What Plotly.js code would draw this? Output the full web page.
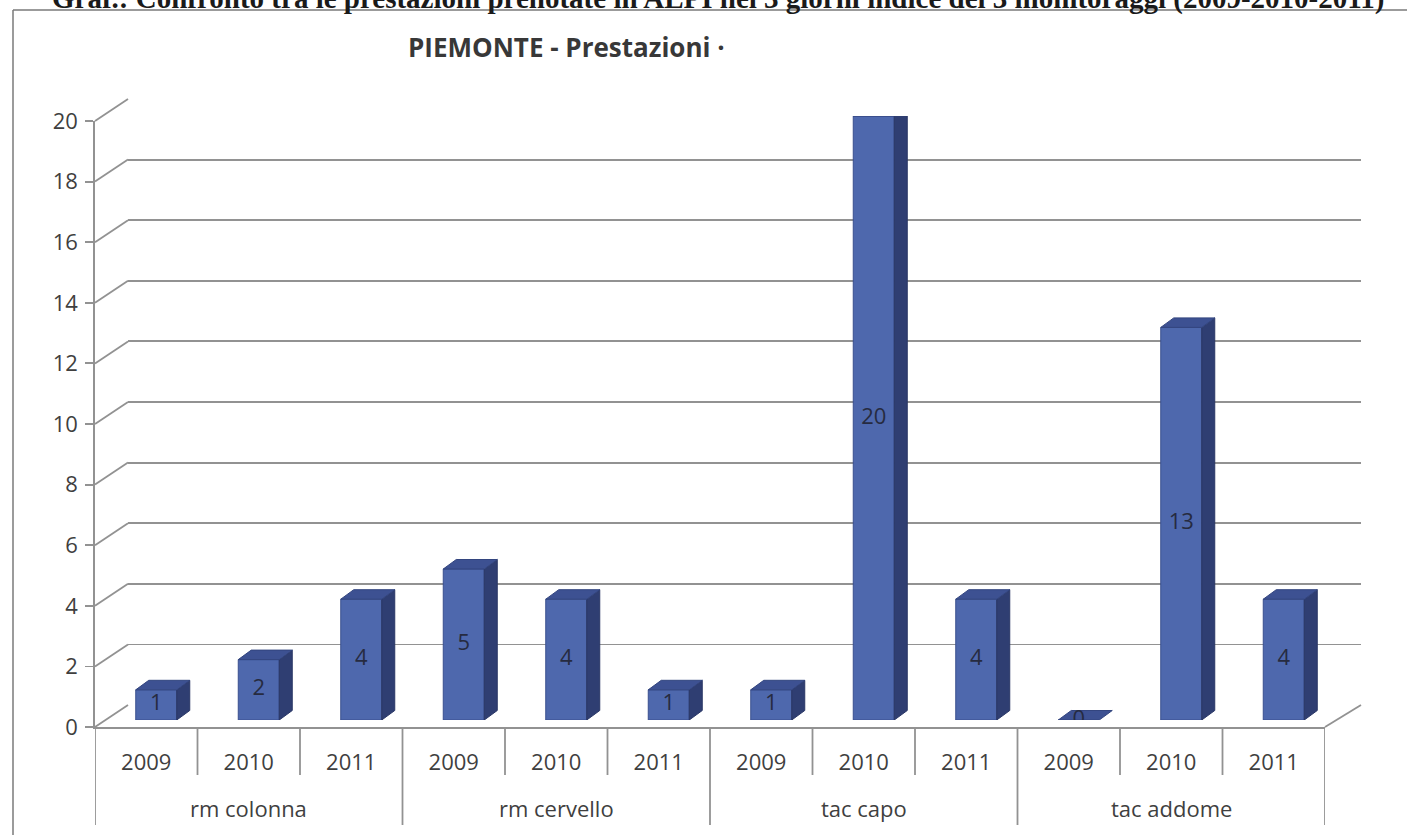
<!DOCTYPE html>
<html>
<head>
<meta charset="utf-8">
<script src="https://cdn.plot.ly/plotly-3.0.1.min.js"></script>
<style>
  html, body { margin: 0; padding: 0; background: #ffffff; }
  #chart { width: 1407px; height: 835px; }
</style>
</head>
<body>
<div id="chart"></div>
<script>
// ---- data ----
const pageTitle = 'Graf.: Confronto tra le prestazioni prenotate in ALPI nei 3 giorni indice dei 3 monitoraggi (2009-2010-2011)';
const chartTitle = 'PIEMONTE - Prestazioni ·';
const groups = ['rm colonna', 'rm cervello', 'tac capo', 'tac addome'];
const years = ['2009', '2010', '2011'];
const rmColonna = [1, 2, 4];
const rmCervello = [5, 4, 1];
const tacCapo = [1, 20, 4];
const tacAddome = [0, 13, 4];
const yTicks = [0, 2, 4, 6, 8, 10, 12, 14, 16, 18, 20];

// ---- build flat series ----
const seriesByGroup = [rmColonna, rmCervello, tacCapo, tacAddome];
const values = [];
const yearLabels = [];
seriesByGroup.forEach(s => s.forEach((v, j) => { values.push(v); yearLabels.push(years[j]); }));
const idx = values.map((_, i) => i);

// ---- geometry helpers (pixel -> paper) ----
const W = 1407, H = 835;
const px = x => x / W;
const py = y => 1 - y / H;

// front plane (axes, floor edge)
const FX0 = 95, FX1 = 1325, FY0 = 727, FY20 = 121;
// back wall (gridlines)
const BX0 = 128, BX1 = 1361, BY0 = 705, BY20 = 99;
// bar plane (mid depth)
const MX0 = 105, MX1 = 1335, MY0 = 720, MY20 = 116;

const yMax = 20;
const nCat = values.length;
const xRange = [-0.5, nCat - 0.5];

// 3D bar faces
const barW = 0.4;
const depthX = 13 / ((MX1 - MX0) / nCat);
const depthY = 9.5 / ((MY0 - MY20) / yMax);
const topX = [], topY = [], sideX = [], sideY = [];
values.forEach((v, i) => {
  const l = i - barW / 2, r = i + barW / 2;
  topX.push(l, r, r + depthX, l + depthX, l, null);
  topY.push(v, v, v + depthY, v + depthY, v, null);
  if (v > 0) {
    sideX.push(r, r + depthX, r + depthX, r, r, null);
    sideY.push(0, depthY, v + depthY, v, 0, null);
  }
});

const gridCol = '#929292';
const textCol = '#3f3f3f';
const font = '"Open Sans", "Noto Sans", sans-serif';

const traces = [
  // invisible trace to anchor the front axes
  { x: idx, y: values, xaxis: 'x', yaxis: 'y', type: 'scatter', mode: 'markers',
    marker: { opacity: 0 }, hoverinfo: 'skip', showlegend: false },
  // invisible trace for the back wall axes
  { x: idx, y: values, xaxis: 'x2', yaxis: 'y2', type: 'scatter', mode: 'markers',
    marker: { opacity: 0 }, hoverinfo: 'skip', showlegend: false },
  // side faces
  { x: sideX, y: sideY, xaxis: 'x3', yaxis: 'y3', type: 'scatter', mode: 'lines',
    fill: 'toself', fillcolor: '#2f3e72', line: { color: '#2a3766', width: 1 },
    hoverinfo: 'skip', showlegend: false },
  // front faces
  { x: idx, y: values, xaxis: 'x3', yaxis: 'y3', type: 'bar', width: barW,
    marker: { color: '#4e68ad', line: { color: '#3a4f8e', width: 1 } },
    hoverinfo: 'skip', showlegend: false },
  // top faces
  { x: topX, y: topY, xaxis: 'x3', yaxis: 'y3', type: 'scatter', mode: 'lines',
    fill: 'toself', fillcolor: '#3d5192', line: { color: '#33457f', width: 1 },
    hoverinfo: 'skip', showlegend: false },
  // value labels
  { x: idx, y: values.map(v => v / 2), text: values.map(String), xaxis: 'x3', yaxis: 'y3',
    type: 'scatter', mode: 'text', textposition: 'middle center',
    textfont: { family: font, size: 22, color: '#262b40' },
    hoverinfo: 'skip', showlegend: false }
];

// shapes: frame, diagonals, floor edge, category dividers
const shapes = [];
shapes.push({ type: 'line', xref: 'paper', yref: 'paper', x0: px(13), x1: px(13), y0: py(10), y1: py(840),
  line: { color: '#7a7a7a', width: 1.5 }, layer: 'below' });
shapes.push({ type: 'line', xref: 'paper', yref: 'paper', x0: px(13), x1: px(1410), y0: py(10), y1: py(10),
  line: { color: '#7a7a7a', width: 1.5 }, layer: 'below' });
yTicks.forEach(v => {
  const yf = py(FY0) + v / yMax * (py(FY20) - py(FY0));
  const yb = py(BY0) + v / yMax * (py(BY20) - py(BY0));
  shapes.push({ type: 'line', xref: 'paper', yref: 'paper', x0: px(FX0), x1: px(BX0), y0: yf, y1: yb,
    line: { color: gridCol, width: 1.8 }, layer: 'below' });
});
shapes.push({ type: 'line', xref: 'paper', yref: 'paper', x0: px(FX1), x1: px(BX1), y0: py(FY0), y1: py(BY0),
  line: { color: gridCol, width: 1.8 }, layer: 'below' });
for (let b = 0; b <= nCat; b++) {
  const big = b % years.length === 0;
  shapes.push({ type: 'line', xref: 'x', yref: 'paper', x0: b - 0.5, x1: b - 0.5,
    y0: py(FY0), y1: py(big ? 825 : 775), line: { color: gridCol, width: 1.8 }, layer: 'below' });
}

const annotations = [
  { text: '<b>' + pageTitle + '</b>', xref: 'paper', yref: 'paper', x: px(50), y: py(-1),
    xanchor: 'left', yanchor: 'middle', showarrow: false,
    font: { family: '"Liberation Serif", "DejaVu Serif", serif', size: 29, color: '#1a1a1a' } },
  { text: '<b>' + chartTitle + '</b>', xref: 'paper', yref: 'paper', x: px(406), y: py(47),
    xanchor: 'left', yanchor: 'middle', showarrow: false,
    font: { family: font, size: 26, color: '#383838' } }
];
groups.forEach((g, k) => {
  annotations.push({ text: g, xref: 'x', yref: 'paper', x: k * years.length + (years.length - 1) / 2, y: py(808),
    xanchor: 'center', yanchor: 'middle', showarrow: false,
    font: { family: font, size: 22, color: textCol } });
});

const layout = {
  width: W, height: H,
  margin: { l: 0, r: 0, t: 0, b: 0, pad: 0 },
  paper_bgcolor: '#ffffff',
  plot_bgcolor: 'rgba(0,0,0,0)',
  showlegend: false,
  barmode: 'overlay',
  xaxis: { domain: [px(FX0), px(FX1)], range: xRange, anchor: 'y',
    showgrid: false, zeroline: false, showline: true, linecolor: gridCol, linewidth: 1.8,
    tickmode: 'array', tickvals: idx, ticktext: yearLabels, ticks: '',
    ticklabelstandoff: 15,
    tickfont: { family: font, size: 22, color: textCol }, fixedrange: true },
  yaxis: { domain: [py(FY0), py(FY20)], range: [0, yMax], anchor: 'x',
    showgrid: false, zeroline: false, showline: true, linecolor: gridCol, linewidth: 1.8,
    tickmode: 'array', tickvals: yTicks, ticks: 'outside', ticklen: 8, tickcolor: gridCol, tickwidth: 1.8,
    ticklabelstandoff: 3,
    tickfont: { family: font, size: 22, color: textCol }, fixedrange: true },
  xaxis2: { domain: [px(BX0), px(BX1)], range: xRange, anchor: 'y2', visible: true,
    showgrid: false, zeroline: false, showline: false, showticklabels: false, ticks: '', fixedrange: true },
  yaxis2: { domain: [py(BY0), py(BY20)], range: [0, yMax], anchor: 'x2',
    showgrid: true, gridcolor: gridCol, gridwidth: 1.8, tickmode: 'array', tickvals: yTicks,
    zeroline: false, showline: false, showticklabels: false, ticks: '', fixedrange: true },
  xaxis3: { domain: [px(MX0), px(MX1)], range: xRange, anchor: 'y3',
    showgrid: false, zeroline: false, showline: false, showticklabels: false, ticks: '', fixedrange: true },
  yaxis3: { domain: [py(MY0), py(MY20)], range: [0, yMax], anchor: 'x3',
    showgrid: false, zeroline: false, showline: false, showticklabels: false, ticks: '', fixedrange: true },
  shapes: shapes,
  annotations: annotations
};

Plotly.newPlot('chart', traces, layout, { displayModeBar: false, staticPlot: true });
</script>
</body>
</html>
